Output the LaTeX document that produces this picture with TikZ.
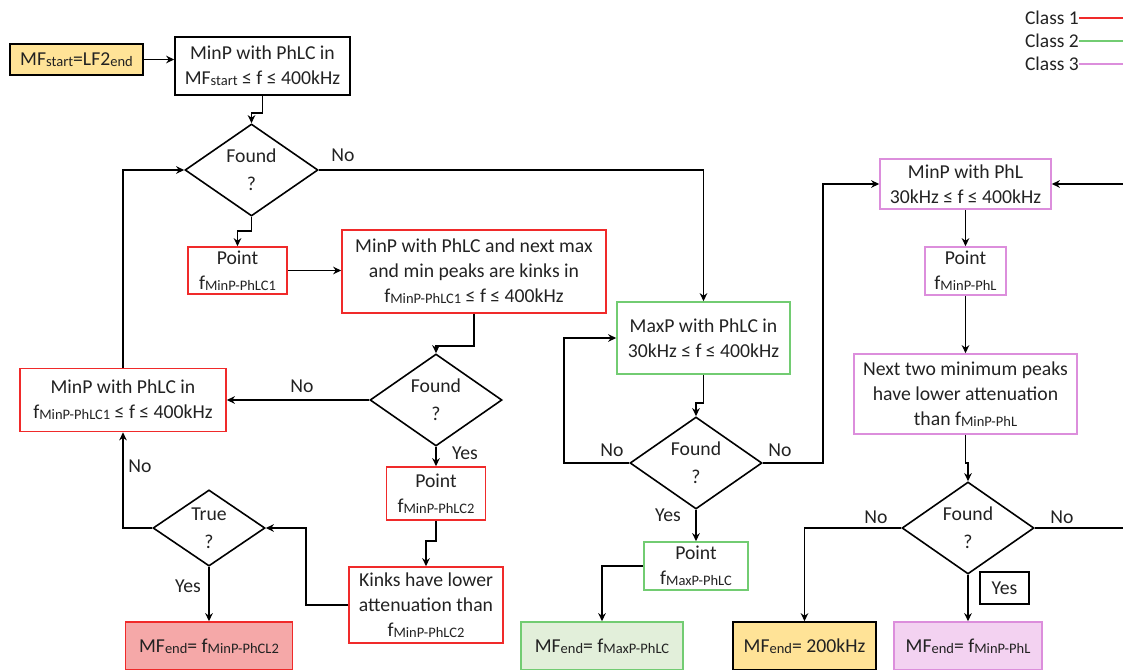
\documentclass[tikz,border=0pt]{standalone}
\usepackage{fontspec}
\setmainfont{Carlito}
\usetikzlibrary{shapes.geometric,arrows.meta}
\definecolor{cred}{HTML}{F02A2A}
\definecolor{cgreen}{HTML}{72CC72}
\definecolor{cpink}{HTML}{DC8EDC}
\definecolor{fyellow}{HTML}{FFE397}
\definecolor{fred}{HTML}{F5A8A8}
\definecolor{fgreen}{HTML}{E2EFDA}
\definecolor{fpink}{HTML}{F3D2F1}
\definecolor{txt}{HTML}{222222}
\newcommand\lo[1]{\raisebox{-0.6pt}{\fontsize{14.5}{14.5}\selectfont #1}}
\begin{document}
\begin{tikzpicture}[x=1pt,y=-1pt,
  font=\fontsize{19.7}{25}\selectfont, text=txt,
  box/.style={draw, line width=1.6pt, align=center, inner sep=1pt},
  kbox/.style={box, draw=black},
  rbox/.style={box, draw=cred},
  gbox/.style={box, draw=cgreen},
  pbox/.style={box, draw=cpink},
  dia/.style={diamond, draw=black, line width=1.6pt, align=center, inner sep=0pt, font=\fontsize{19.7}{28}\selectfont},
  arr/.style={-{Stealth[length=8pt,width=7.5pt,inset=2.5pt]}, line width=1.6pt},
  lab/.style={inner sep=1pt},
  legt/.style={inner sep=0pt, anchor=east, font=\fontsize{19.5}{22}\selectfont},
  leg/.style={line width=2.6pt}
]
\useasboundingbox (0,0) rectangle (1123,669);

% legend
\node[legt] (l1) at (1079,18) {Class 1};
\node[legt] (l2) at (1079,41) {Class 2};
\node[legt] (l3) at (1079,64) {Class 3};
\coordinate (le1) at (1123,18);
\coordinate (le2) at (1123,41);
\coordinate (le3) at (1123,64);
\draw[leg, cred] (l1.east) -- (le1);
\draw[leg, cgreen] (l2.east) -- (le2);
\draw[leg, cpink] (l3.east) -- (le3);

% class 1 (left)
\node[kbox, fill=fyellow, minimum width=133, minimum height=31] (st) at (76.5,59.5) {MF\lo{start}=LF2\lo{end}};
\node[kbox, minimum width=175, minimum height=58] (b1) at (262.5,66) {MinP with PhLC in\\MF\lo{start} ≤ f ≤ 400kHz};
\node[dia, minimum width=133, minimum height=75] (d1) at (251.5,170) {Found\\?};
\node[rbox, minimum width=99, minimum height=47] (p1) at (237.5,270.5) {Point\\f\lo{MinP-PhLC1}};
\node[rbox, minimum width=264, minimum height=83] (b2) at (474,271.5) {MinP with PhLC and next max\\and min peaks are kinks in\\f\lo{MinP-PhLC1} ≤ f ≤ 400kHz};
\node[dia, minimum width=132, minimum height=75] (d2) at (436,400) {Found\\?};
\node[rbox, minimum width=206, minimum height=63] (b3) at (123,400) {MinP with PhLC in\\f\lo{MinP-PhLC1} ≤ f ≤ 400kHz};
\node[rbox, minimum width=99, minimum height=53] (p2) at (436,493.5) {Point\\f\lo{MinP-PhLC2}};
\node[rbox, minimum width=154, minimum height=76] (kk) at (426,605) {Kinks have lower\\attenuation than\\f\lo{MinP-PhLC2}};
\node[dia, minimum width=112, minimum height=76] (dt) at (209,528) {True\\?};
\node[rbox, fill=fred, minimum width=167, minimum height=48] (e1) at (209,646) {MF\lo{end}= f\lo{MinP-PhCL2}};

% class 2 (middle)
\node[gbox, minimum width=173, minimum height=72] (g1) at (703.5,338) {MaxP with PhLC in\\30kHz ≤ f ≤ 400kHz};
\node[dia, minimum width=132, minimum height=74] (d3) at (696,463) {Found\\?};
\node[gbox, minimum width=104, minimum height=48] (p3) at (696,566) {Point\\f\lo{MaxP-PhLC}};
\node[gbox, fill=fgreen, minimum width=162, minimum height=48] (e2) at (602,646) {MF\lo{end}= f\lo{MaxP-PhLC}};

% class 3 (right)
\node[pbox, minimum width=171, minimum height=50] (m1) at (965.5,184) {MinP with PhL\\30kHz ≤ f ≤ 400kHz};
\node[pbox, minimum width=81, minimum height=48] (p4) at (965.5,271) {Point\\f\lo{MinP-PhL}};
\node[pbox, minimum width=223, minimum height=80] (nx) at (965.5,394) {Next two minimum peaks\\have lower attenuation\\than f\lo{MinP-PhL}};
\node[dia, minimum width=132, minimum height=75] (d4) at (968,528) {Found\\?};
\node[kbox, fill=fyellow, minimum width=143, minimum height=48] (e3) at (804.5,646) {MF\lo{end}= 200kHz};
\node[pbox, fill=fpink, minimum width=148, minimum height=48] (e4) at (968,646) {MF\lo{end}= f\lo{MinP-PhL}};
\node[kbox, line width=1.3pt, minimum width=49, minimum height=32] (yb) at (1004.5,588) {Yes};

% labels
\node[lab] (n1) at (343,155) {No};
\node[lab] (n2) at (302,386) {No};
\node[lab] (y2) at (465,453) {Yes};
\node[lab] (n3) at (140,466) {No};
\node[lab] (y3) at (188,586) {Yes};
\node[lab] (n4) at (612,450) {No};
\node[lab] (n5) at (780,450) {No};
\node[lab] (y4) at (668,515) {Yes};
\node[lab] (n6) at (876,517) {No};
\node[lab] (n7) at (1062,517) {No};

% connectors
\draw[arr] (st.east) -- (b1.west |- st.east);
\draw[arr] (b1.south) -- ++(0,17) -| (d1.north);
\draw[arr] (d1.east) -| (g1.north);
\draw[arr] (d1.south) -- ++(0,14) -| (p1.north);
\draw[arr] (p1.east) -- (b2.west |- p1.east);
\draw[arr] (b2.south) -- ++(0,32) -| (d2.north);
\draw[arr] (d2.west) -- (b3.east);
\draw[arr] (b3.north) |- (d1.west);
\draw[arr] (d2.south) -- (p2.north);
\draw[arr] (p2.south) -- ++(0,20) -| (kk.north);
\draw[arr] (kk.west) -- ++(-42,0) |- (dt.east);
\draw[arr] (dt.west) -| (b3.south);
\draw[arr] (dt.south) -- (e1.north);

\draw[arr] (g1.south) -- ++(0,28) -| (d3.north);
\draw[arr] (d3.west) -- ++(-65,0) |- (g1.west);
\draw[arr] (d3.east) -- ++(60,0) |- (m1.west);
\draw[arr] (d3.south) -- (p3.north);
\draw[arr] (p3.west) -| (e2.north);

\draw[arr] (m1.south) -- (p4.north);
\draw[arr] (p4.south) -- (nx.north);
\draw[arr] (nx.south) -- ++(0,28) -| (d4.north);
\draw[arr] (d4.west) -| (e3.north);
\coordinate (re) at (1123.5,528);
\draw[arr] (d4.east) -- (re) |- (m1.east);
\draw[arr] (d4.south) -- (e4.north);
\end{tikzpicture}
\end{document}
